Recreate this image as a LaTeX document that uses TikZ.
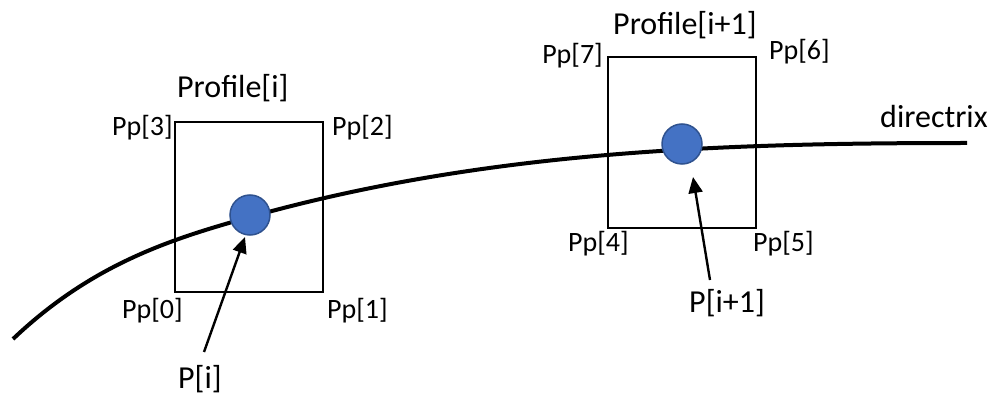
\documentclass[tikz,border=0pt]{standalone}
\usepackage{fontspec}
\setmainfont{Carlito}
\usetikzlibrary{arrows.meta}
\definecolor{ptfill}{HTML}{4472C4}
\definecolor{ptedge}{HTML}{2F528F}
\begin{document}
\begin{tikzpicture}[x=1pt,y=-1pt,
  lbl/.style={inner sep=0pt,anchor=base west,font=\fontsize{28}{30}\selectfont},
  biglbl/.style={inner sep=0pt,anchor=base west,font=\fontsize{32}{34}\selectfont},
  profilebox/.style={draw,line width=2.4pt,fill=none},
  pt/.style={circle,fill=ptfill,draw=ptedge,line width=1.5pt,minimum size=40pt,inner sep=0pt},
  pointer/.style={line width=2.4pt,-{Triangle[length=16pt,width=14pt]}},
  curve/.style={line width=4pt}]
\useasboundingbox (0,0) rectangle (998,395);

% the directrix
\coordinate (dstart) at (13,339);
\coordinate (dmid) at (250,217);
\coordinate (dend) at (967,143);
\draw[curve] (dstart) .. controls (92,264) and (171,239) .. (dmid)
  .. controls (489,150) and (728,143) .. (dend);
\node[biglbl] (dirlbl) at (880,128) {directrix};

% first profile
\draw[profilebox] (175,122) rectangle (323,292);
\node[pt] (pi) at (250,215) {};
\node[biglbl] (prof1) at (177,98) {Profile[i]};
\node[lbl] (pp3) at (112,136) {Pp[3]};
\node[lbl] (pp2) at (332,136) {Pp[2]};
\node[lbl] (pp0) at (122,318) {Pp[0]};
\node[lbl] (pp1) at (327,318) {Pp[1]};
\node[biglbl] (plbl1) at (178,388) {P[i]};
\coordinate (tail1) at (204,352);
\coordinate (tip1) at (245,237);
\draw[pointer] (tail1) -- (tip1);

% second profile
\draw[profilebox] (608,57) rectangle (756,228);
\node[pt] (pi1) at (682,144) {};
\node[biglbl] (prof2) at (613,35) {Profile[i+1]};
\node[lbl,anchor=base east] (pp7) at (603,64) {Pp[7]};
\node[lbl] (pp6) at (769,60) {Pp[6]};
\node[lbl] (pp4) at (568,252) {Pp[4]};
\node[lbl] (pp5) at (753,252) {Pp[5]};
\node[biglbl] (plbl2) at (689,312) {P[i+1]};
\coordinate (tail2) at (710,280);
\coordinate (tip2) at (693,177);
\draw[pointer] (tail2) -- (tip2);
\end{tikzpicture}
\end{document}
